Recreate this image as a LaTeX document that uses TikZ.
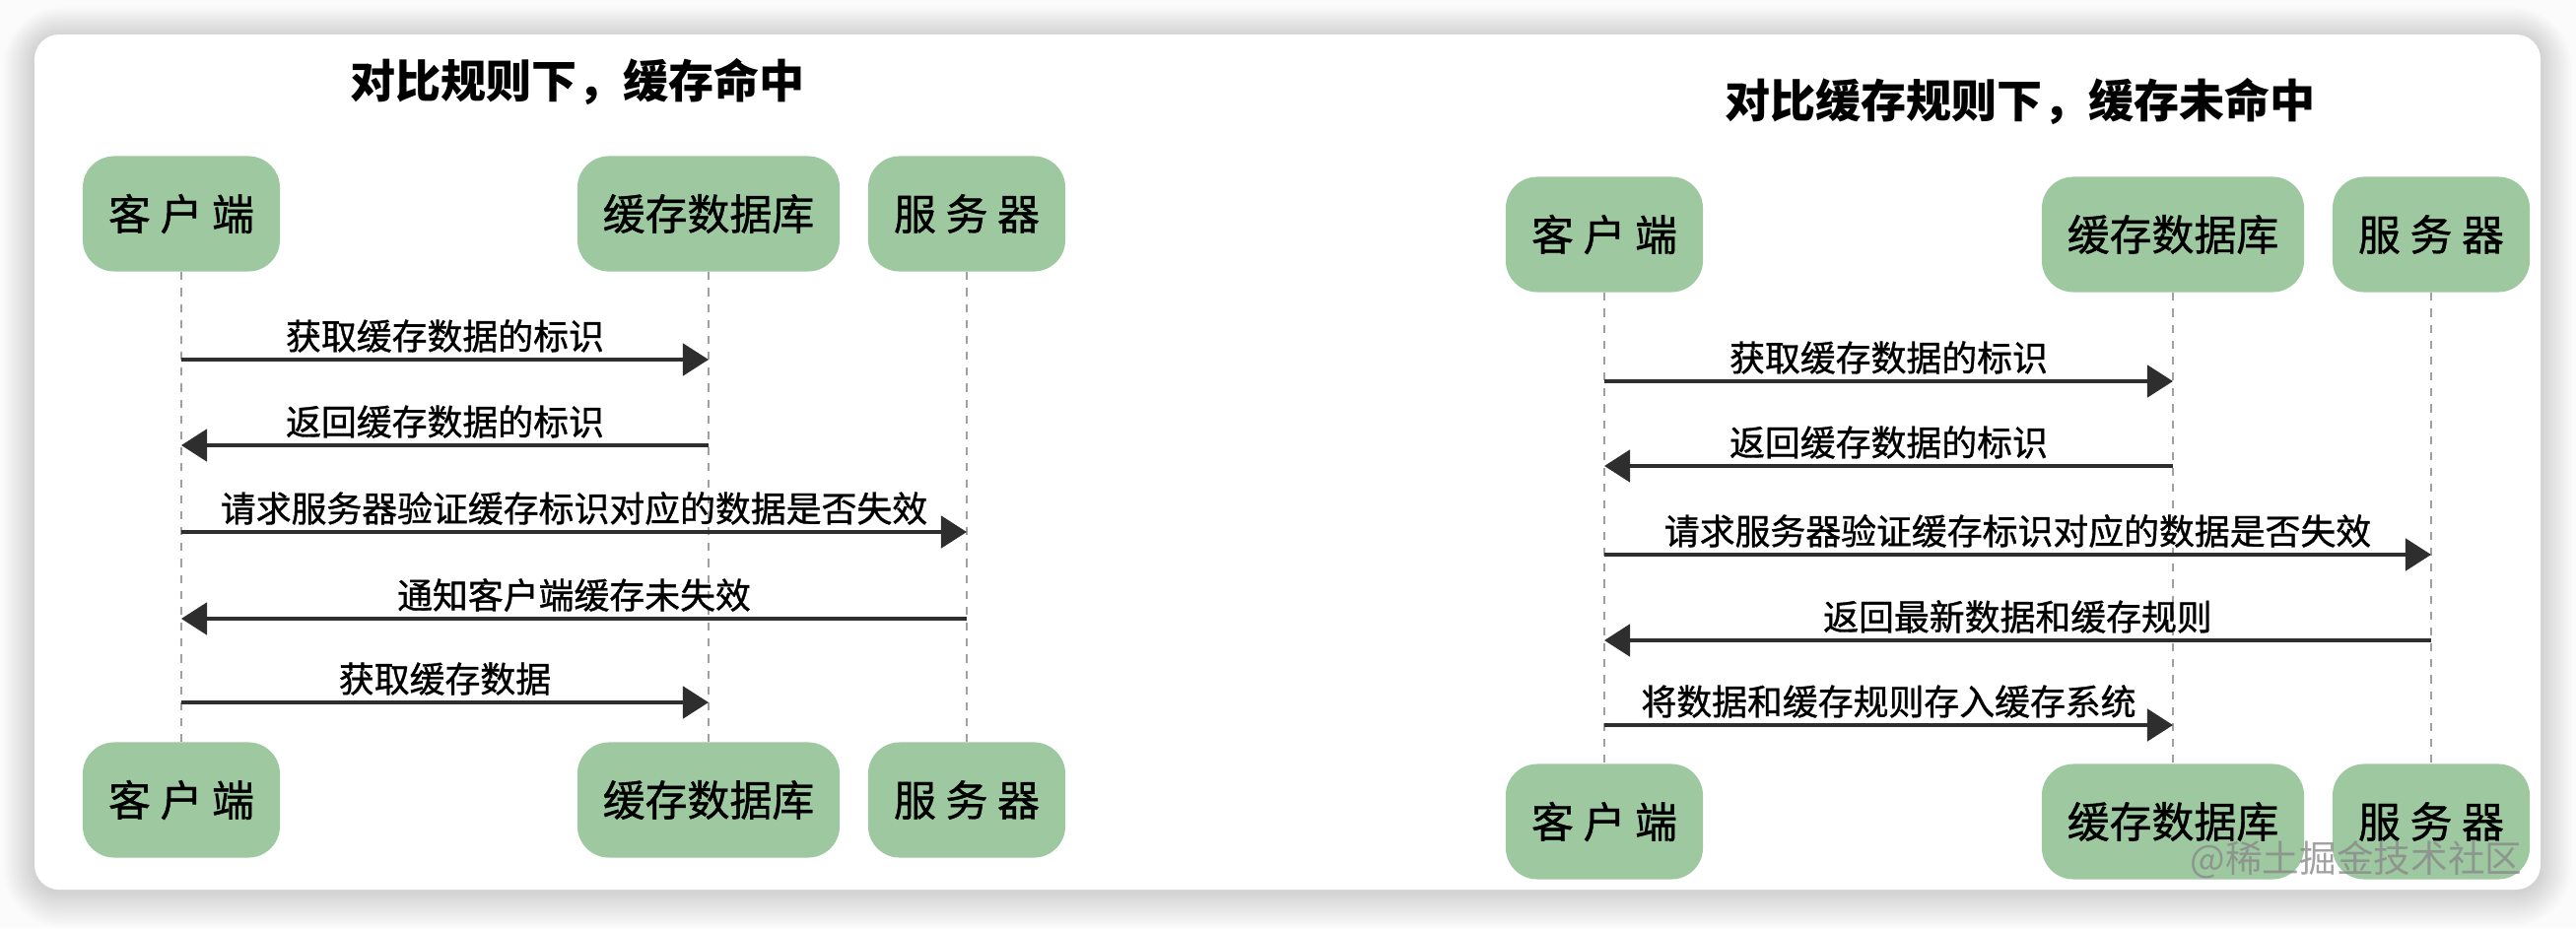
\documentclass[tikz,border=0pt]{standalone}
\usepackage{fontspec}
\usetikzlibrary{arrows.meta}
\newfontfamily\cjk{Noto Sans CJK SC}
\newfontfamily\cjkheavy{Noto Sans CJK SC}[FakeBold=1]
\definecolor{actorfill}{HTML}{9DC8A0}
\definecolor{msgline}{HTML}{2E2E2E}
\definecolor{lifegrey}{HTML}{A0A0A0}
\definecolor{pagebg}{HTML}{FBFBFB}
\definecolor{markgrey}{HTML}{8A8A8A}

\begin{document}
\begin{tikzpicture}[x=0.01cm,y=-0.01cm,
  actor/.style={draw=none, fill=actorfill, rounded corners=0.32cm,
    minimum height=1.17cm, minimum width=2cm, inner sep=0pt,
    font=\cjkheavy\fontsize{12.2}{14}\selectfont},
  wideactor/.style={actor, minimum width=2.66cm},
  lifeline/.style={draw=lifegrey, line width=0.45pt, dash pattern=on 2.3pt off 2.3pt},
  msg/.style={draw=msgline, line width=1.1pt, -{Triangle[length=7.4pt,width=9.2pt]}},
  lbl/.style={midway, yshift=0.24cm, inner sep=0pt, text=black,
    font=\cjkheavy\fontsize{10.2}{12}\selectfont},
  heading/.style={inner sep=0pt, font=\cjk\bfseries\fontsize{13.1}{15}\selectfont},
]
\useasboundingbox (0,0) rectangle (2614,942);

% page and soft card shadow
\fill[pagebg] (0,0) rectangle (2614,942);
\foreach \i in {1,...,20} {
  \pgfmathsetmacro\rr{0.25+\i*0.018}
  \fill[black, opacity=0.0075, rounded corners=\rr cm]
    (35-\i*1.6, 37-\i*1.5) rectangle (2578+\i*1.6, 905+\i*1.8);
}
\fill[white, rounded corners=0.25cm] (35,35) rectangle (2578,903);

% ---------- left: cache hit ----------
\node[heading] (ltitle) at (586,83) {对比规则下，缓存命中};

\node[actor]     (lc)  at (184,217) {客 户 端};
\node[wideactor] (ld)  at (719,217) {缓存数据库};
\node[actor]     (ls)  at (981,217) {服 务 器};
\node[actor]     (lcb) at (184,812) {客 户 端};
\node[wideactor] (ldb) at (719,812) {缓存数据库};
\node[actor]     (lsb) at (981,812) {服 务 器};

\draw[lifeline] (lc) -- (lcb);
\draw[lifeline] (ld) -- (ldb);
\draw[lifeline] (ls) -- (lsb);

\draw[msg] (lc |- 0,365) -- node[lbl]{获取缓存数据的标识} (ld |- 0,365);
\draw[msg] (ld |- 0,452) -- node[lbl]{返回缓存数据的标识} (lc |- 0,452);
\draw[msg] (lc |- 0,540) -- node[lbl]{请求服务器验证缓存标识对应的数据是否失效} (ls |- 0,540);
\draw[msg] (ls |- 0,628) -- node[lbl]{通知客户端缓存未失效} (lc |- 0,628);
\draw[msg] (lc |- 0,713) -- node[lbl]{获取缓存数据} (ld |- 0,713);

% ---------- right: cache miss ----------
\node[heading] (rtitle) at (2050,103) {对比缓存规则下，缓存未命中};

\node[actor]     (rc)  at (1628,238) {客 户 端};
\node[wideactor] (rd)  at (2205,238) {缓存数据库};
\node[actor]     (rs)  at (2467,238) {服 务 器};
\node[actor]     (rcb) at (1628,834) {客 户 端};
\node[wideactor] (rdb) at (2205,834) {缓存数据库};
\node[actor]     (rsb) at (2467,834) {服 务 器};

\draw[lifeline] (rc) -- (rcb);
\draw[lifeline] (rd) -- (rdb);
\draw[lifeline] (rs) -- (rsb);

\draw[msg] (rc |- 0,387) -- node[lbl]{获取缓存数据的标识} (rd |- 0,387);
\draw[msg] (rd |- 0,473) -- node[lbl]{返回缓存数据的标识} (rc |- 0,473);
\draw[msg] (rc |- 0,563) -- node[lbl]{请求服务器验证缓存标识对应的数据是否失效} (rs |- 0,563);
\draw[msg] (rs |- 0,650) -- node[lbl]{返回最新数据和缓存规则} (rc |- 0,650);
\draw[msg] (rc |- 0,736) -- node[lbl]{将数据和缓存规则存入缓存系统} (rd |- 0,736);

% site mark
\node[inner sep=0pt, text=markgrey, opacity=0.8,
  font=\cjk\fontsize{10.7}{12}\selectfont] (wm) at (2391,873) {@稀土掘金技术社区};
\end{tikzpicture}
\end{document}
